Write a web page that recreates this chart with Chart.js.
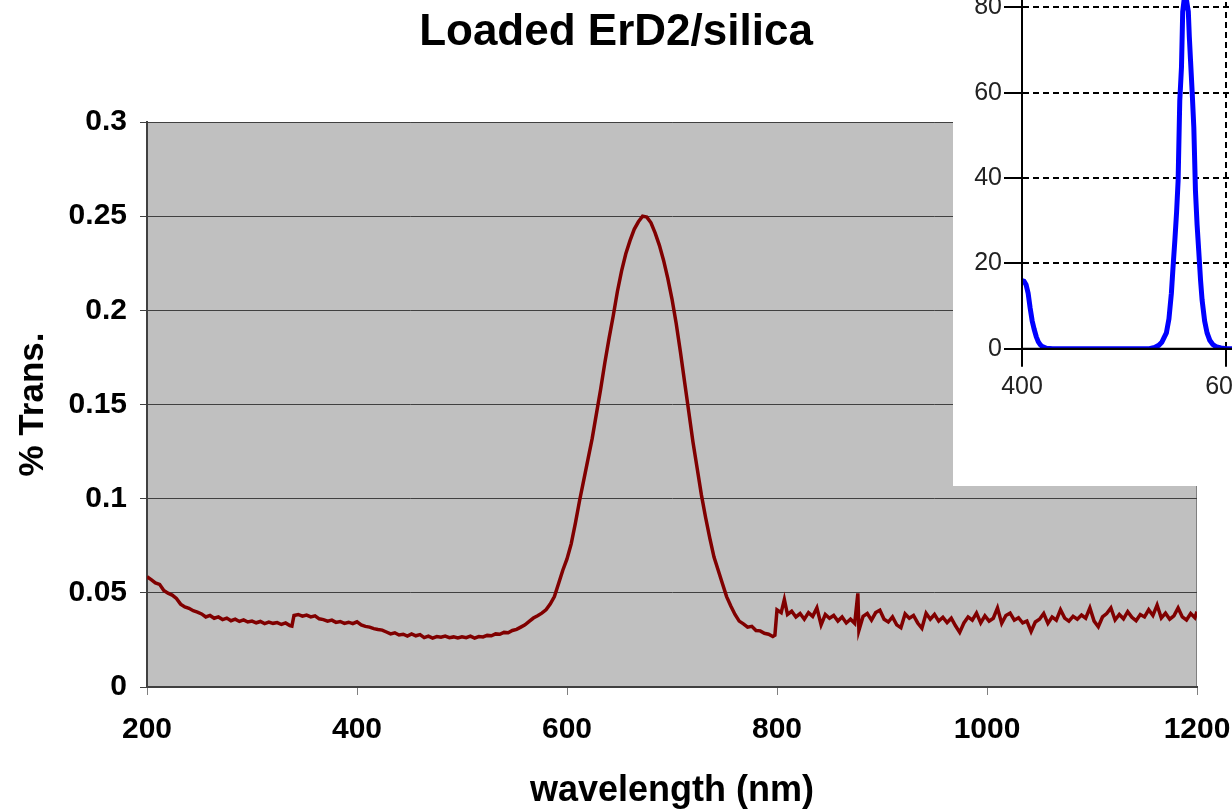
<!DOCTYPE html>
<html>
<head>
<meta charset="utf-8">
<script src="https://cdn.jsdelivr.net/npm/chart.js@4.4.0/dist/chart.umd.min.js"></script>
<style>
  html, body { margin: 0; padding: 0; background: #fff; }
  #wrap { position: relative; width: 1232px; height: 809px; overflow: hidden; }
  #main { position: absolute; left: 0; top: 0; }
  #inset { position: absolute; left: 953px; top: 0; width: 279px; height: 486px; overflow: hidden; background: #fff; }
  #insetCanvas { position: absolute; left: 0; top: -95px; }
</style>
</head>
<body>
<div id="wrap">
  <canvas id="main" width="1232" height="809"></canvas>
  <div id="inset"><canvas id="insetCanvas" width="503" height="600"></canvas></div>
</div>
<script>
// main spectrum
const wavelength = [
  200, 204, 208, 212, 216, 220, 224, 228, 232, 236, 240, 244, 248, 252, 256, 260, 264, 268, 272, 276,
  280, 284, 288, 292, 296, 300, 304, 308, 312, 316, 320, 324, 328, 332, 336, 338, 340, 344, 348, 352,
  356, 360, 364, 368, 372, 376, 380, 384, 388, 392, 396, 400, 404, 408, 412, 416, 420, 424, 428, 432,
  436, 440, 444, 448, 452, 456, 460, 464, 468, 472, 476, 480, 484, 488, 492, 496, 500, 504, 508, 512,
  516, 520, 524, 528, 532, 536, 540, 544, 548, 552, 556, 560, 564, 568, 572, 576, 580, 584, 588, 592,
  596, 600, 604, 608, 612, 616, 620, 624, 628, 632, 636, 640, 644, 648, 652, 656, 660, 664, 668, 672,
  676, 680, 684, 688, 692, 696, 700, 704, 708, 712, 716, 720, 724, 728, 732, 736, 740, 744, 748, 752,
  756, 760, 764, 768, 772, 776, 780, 784, 788, 792, 796, 798, 800, 804, 807, 810, 814, 818, 822, 826,
  830, 834, 838, 842, 846, 850, 854, 858, 862, 866, 870, 874, 877, 878, 882, 886, 890, 894, 898, 902,
  906, 910, 914, 918, 922, 926, 930, 934, 938, 942, 946, 950, 954, 958, 962, 966, 970, 974, 978, 982,
  986, 990, 994, 998, 1002, 1006, 1010, 1014, 1018, 1022, 1026, 1030, 1034, 1038, 1042, 1046, 1050, 1054, 1058, 1062,
  1066, 1070, 1074, 1078, 1082, 1086, 1090, 1094, 1098, 1102, 1106, 1110, 1114, 1118, 1122, 1126, 1130, 1134, 1138, 1142,
  1146, 1150, 1154, 1158, 1162, 1166, 1170, 1174, 1178, 1182, 1186, 1190, 1194, 1198, 1200
];
const transmission = [
  0.0585, 0.0570, 0.0553, 0.0545, 0.0512, 0.0498, 0.0488, 0.0470, 0.0440, 0.0425, 0.0418, 0.0405, 0.0398, 0.0388, 0.0372, 0.0380, 0.0365, 0.0372, 0.0358, 0.0366,
  0.0352, 0.0360, 0.0348, 0.0356, 0.0345, 0.0350, 0.0341, 0.0348, 0.0337, 0.0345, 0.0338, 0.0342, 0.0332, 0.0340, 0.0326, 0.0323, 0.0380, 0.0385, 0.0376, 0.0382,
  0.0372, 0.0378, 0.0362, 0.0358, 0.0350, 0.0355, 0.0343, 0.0348, 0.0338, 0.0344, 0.0336, 0.0346, 0.0330, 0.0322, 0.0318, 0.0310, 0.0305, 0.0302, 0.0292, 0.0282,
  0.0288, 0.0276, 0.0280, 0.0270, 0.0282, 0.0272, 0.0278, 0.0262, 0.0270, 0.0260, 0.0268, 0.0264, 0.0270, 0.0262, 0.0266, 0.0260, 0.0267, 0.0262, 0.0270, 0.0260,
  0.0268, 0.0266, 0.0274, 0.0272, 0.0282, 0.0280, 0.0290, 0.0288, 0.0300, 0.0306, 0.0318, 0.0330, 0.0348, 0.0366, 0.0378, 0.0392, 0.0410, 0.0440, 0.0480, 0.0550,
  0.0620, 0.0680, 0.0760, 0.0870, 0.0990, 0.1100, 0.1210, 0.1320, 0.1450, 0.1580, 0.1720, 0.1850, 0.1970, 0.2100, 0.2210, 0.2300, 0.2370, 0.2430, 0.2470, 0.2500,
  0.2495, 0.2465, 0.2410, 0.2345, 0.2265, 0.2170, 0.2060, 0.1930, 0.1780, 0.1620, 0.1460, 0.1300, 0.1160, 0.1020, 0.0900, 0.0790, 0.0690, 0.0620, 0.0550, 0.0480,
  0.0430, 0.0385, 0.0350, 0.0335, 0.0318, 0.0322, 0.0300, 0.0298, 0.0285, 0.0280, 0.0268, 0.0275, 0.0410, 0.0395, 0.0465, 0.0385, 0.0402, 0.0372, 0.0390, 0.0360,
  0.0395, 0.0375, 0.0420, 0.0330, 0.0385, 0.0365, 0.0380, 0.0350, 0.0372, 0.0340, 0.0360, 0.0338, 0.0497, 0.0300, 0.0375, 0.0390, 0.0355, 0.0395, 0.0408, 0.0360,
  0.0345, 0.0372, 0.0330, 0.0315, 0.0388, 0.0365, 0.0380, 0.0340, 0.0312, 0.0392, 0.0360, 0.0385, 0.0350, 0.0370, 0.0342, 0.0365, 0.0325, 0.0290, 0.0340, 0.0372,
  0.0355, 0.0392, 0.0340, 0.0378, 0.0350, 0.0365, 0.0420, 0.0338, 0.0380, 0.0392, 0.0355, 0.0368, 0.0340, 0.0350, 0.0295, 0.0345, 0.0360, 0.0390, 0.0338, 0.0372,
  0.0355, 0.0410, 0.0366, 0.0350, 0.0375, 0.0360, 0.0382, 0.0365, 0.0420, 0.0350, 0.0320, 0.0372, 0.0390, 0.0420, 0.0356, 0.0385, 0.0362, 0.0400, 0.0370, 0.0352,
  0.0385, 0.0372, 0.0410, 0.0380, 0.0435, 0.0366, 0.0392, 0.0360, 0.0378, 0.0420, 0.0372, 0.0356, 0.0390, 0.0368, 0.0400
];
const xTicks = [200, 400, 600, 800, 1000, 1200];
const xTickLabels = ['200', '400', '600', '800', '1000', '1200'];
const yTicks = [0, 0.05, 0.1, 0.15, 0.2, 0.25, 0.3];
const yTickLabels = ['0', '0.05', '0.1', '0.15', '0.2', '0.25', '0.3'];

// pasted inset spectrum (blue)
const insetWavelength = [
  400, 402, 404, 406, 408, 410, 412, 414, 416, 418, 420, 424, 430, 460, 500, 525, 530, 534, 537, 539,
  541.5, 544, 546.4, 548, 549.8, 551.5, 553, 554.6, 556.3, 557.5, 559, 561, 563, 564, 565.2, 566.8, 568.4, 570, 571.6, 573.2,
  575, 576.5, 579, 581.4, 584, 587, 590, 595, 600, 650, 700, 800
];
const insetValues = [
  16, 15.8, 15, 13, 9.5, 6.5, 4.5, 2.8, 1.6, 0.9, 0.5, 0.1, 0, 0, 0, 0, 0.3, 0.8, 1.5, 2.5,
  3.7, 7, 13, 19, 25.4, 32, 39.4, 58, 66, 79, 82, 82, 79, 73, 67.4, 60, 51.8, 37, 29, 23,
  16, 11.4, 6.5, 3.7, 2, 1, 0.5, 0.2, 0, 0, 0, 0
];
const insetXTicks = [400, 600, 800];
const insetXTickLabels = ['400', '600', '800'];
const insetYTicks = [0, 20, 40, 60, 80, 100];
const insetYTickLabels = ['0', '20', '40', '60', '80', '100'];

Chart.defaults.font.family = 'Liberation Sans';
Chart.defaults.color = '#000';

const plotBg = {
  id: 'plotBg',
  beforeDraw(chart, args, opts) {
    if (!opts.color) return;
    const a = chart.chartArea;
    const ctx = chart.ctx;
    ctx.save();
    ctx.fillStyle = opts.color;
    ctx.fillRect(a.left, a.top, a.right - a.left, a.bottom - a.top);
    if (opts.border) {
      ctx.strokeStyle = opts.border;
      ctx.lineWidth = 1;
      ctx.strokeRect(a.left + 0.5, a.top + 0.5, a.right - a.left - 1, a.bottom - a.top - 1);
    }
    ctx.restore();
  }
};

// solid axis lines for the inset (its grid is dashed)
const solidAxes = {
  id: 'solidAxes',
  afterDatasetsDraw(chart, args, opts) {
    if (!opts.color) return;
    const a = chart.chartArea;
    const ctx = chart.ctx;
    ctx.save();
    ctx.strokeStyle = opts.color;
    ctx.lineWidth = 2;
    ctx.setLineDash([]);
    ctx.beginPath();
    ctx.moveTo(a.left, 0);
    ctx.lineTo(a.left, a.bottom);
    ctx.lineTo(chart.width, a.bottom);
    ctx.stroke();
    ctx.restore();
  }
};

function mainChart(ctx) {
  let config = {
    type: 'line',
    data: {
      datasets: [
        {
          data: wavelength.map((w, i) => ({ x: w, y: transmission[i] })),
          borderColor: '#800000',
          borderWidth: 3.5,
          pointRadius: 0,
          tension: 0,
          fill: false
        }
      ]
    },
    options: {
      responsive: false,
      animation: false,
      layout: { padding: 0 },
      plugins: {
        legend: { display: false },
        tooltip: { enabled: false },
        title: {
          display: true,
          text: 'Loaded ErD2/silica',
          color: '#000',
          font: { size: 44, weight: 'bold', lineHeight: 1.2 },
          padding: { top: 6, bottom: 63.2 }
        },
        plotBg: { color: '#c0c0c0', border: '#808080' }
      },
      scales: {
        x: {
          type: 'linear',
          min: 200,
          max: 1200,
          afterBuildTicks: s => { s.ticks = xTicks.map(v => ({ value: v })); },
          afterFit: s => { s.height = 122; s.paddingLeft = 0; s.paddingRight = 0; },
          grid: { drawOnChartArea: false, tickLength: 8, tickColor: '#808080', tickWidth: 1 },
          border: { color: '#404040', width: 2 },
          ticks: { font: { size: 30, weight: 'bold', lineHeight: 1.2 }, padding: 17, maxRotation: 0, autoSkip: false, callback: (v, i) => xTickLabels[i] },
          title: {
            display: true,
            text: 'wavelength (nm)',
            font: { size: 36, weight: 'bold', lineHeight: 1 },
            padding: { top: 0, bottom: 0 }
          }
        },
        y: {
          type: 'linear',
          min: 0,
          max: 0.3,
          afterBuildTicks: s => { s.ticks = yTicks.map(v => ({ value: v })); },
          afterFit: s => { s.width = 147; },
          grid: { color: '#404040', lineWidth: 1, tickLength: 7, tickColor: '#404040' },
          border: { color: '#404040', width: 2 },
          ticks: { font: { size: 30, weight: 'bold' }, padding: 13, callback: (v, i) => yTickLabels[i] },
          title: {
            display: true,
            text: '% Trans.',
            font: { size: 35, weight: 'bold', lineHeight: 1.2 },
            padding: { top: 12, bottom: 0 }
          }
        },
        y2: {
          type: 'linear',
          position: 'right',
          afterFit: s => { s.width = 35; },
          grid: { display: false },
          ticks: { display: false },
          border: { display: false }
        }
      }
    },
    plugins: [plotBg]
  };
  return new Chart(ctx, config);
}

function insetChart(ctx) {
  let config = {
    type: 'line',
    data: {
      datasets: [
        {
          data: insetWavelength.map((w, i) => ({ x: w, y: insetValues[i] })),
          borderColor: '#0000ff',
          borderWidth: 5,
          pointRadius: 0,
          tension: 0,
          fill: false
        }
      ]
    },
    options: {
      responsive: false,
      animation: false,
      layout: { padding: { top: 15, right: 20, left: 0, bottom: 0 } },
      plugins: {
        legend: { display: false },
        tooltip: { enabled: false },
        title: { display: false },
        solidAxes: { color: '#000' }
      },
      scales: {
        x: {
          type: 'linear',
          min: 400,
          max: 800,
          afterBuildTicks: s => { s.ticks = insetXTicks.map(v => ({ value: v })); },
          afterFit: s => { s.height = 156.25; },
          grid: { color: '#000', lineWidth: 2, tickLength: 18, tickColor: '#000', tickWidth: 2 },
          border: { color: '#000', width: 2, dash: [6, 4] },
          ticks: { color: '#222', font: { size: 25, lineHeight: 1.2 }, padding: 5, maxRotation: 0, autoSkip: false, callback: (v, i) => insetXTickLabels[i] }
        },
        y: {
          type: 'linear',
          min: 0,
          max: 100,
          afterBuildTicks: s => { s.ticks = insetYTicks.map(v => ({ value: v })); },
          afterFit: s => { s.width = 69; },
          grid: { color: '#000', lineWidth: 2, tickLength: 18, tickColor: '#000', tickWidth: 2 },
          border: { color: '#000', width: 2, dash: [6, 4] },
          ticks: { color: '#222', font: { size: 25 }, padding: 2, callback: (v, i) => insetYTickLabels[i] }
        }
      }
    },
    plugins: [solidAxes]
  };
  return new Chart(ctx, config);
}

mainChart(document.getElementById('main'));
insetChart(document.getElementById('insetCanvas'));
</script>
</body>
</html>
